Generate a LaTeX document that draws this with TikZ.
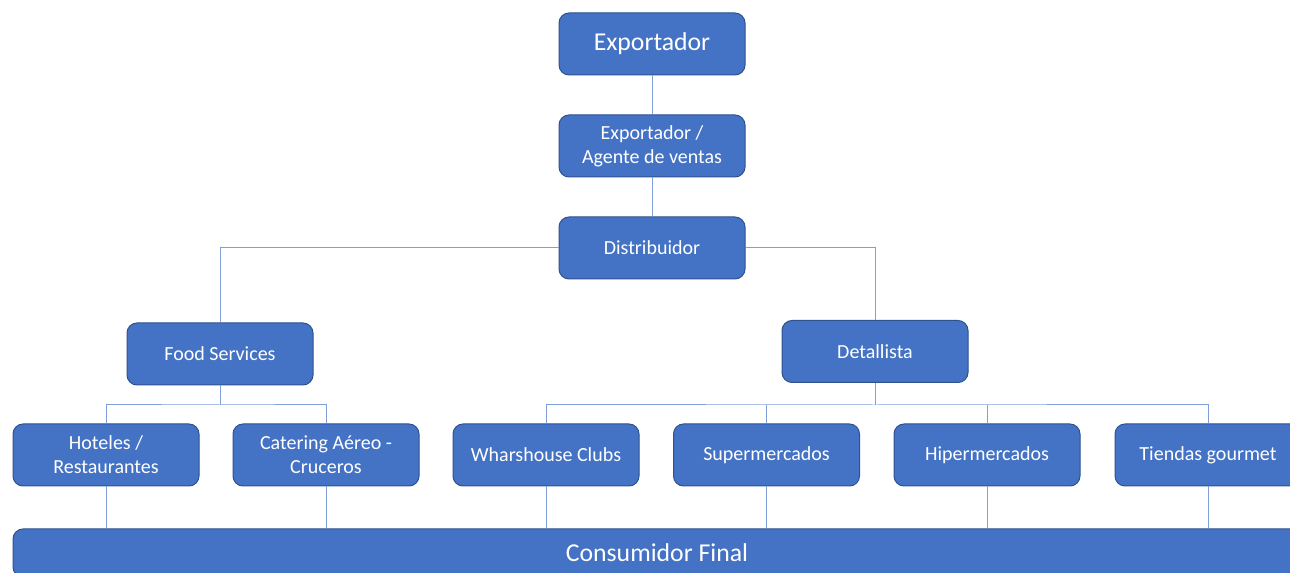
\documentclass[tikz,border=0pt]{standalone}
\usepackage{fontspec}
\setmainfont{Carlito}
\definecolor{boxfill}{HTML}{4472C4}
\definecolor{boxline}{HTML}{2F528F}
\definecolor{connc}{HTML}{7F9FD8}
\begin{document}
\begin{tikzpicture}[x=0.75pt,y=-0.75pt,
  box/.style={draw=boxline, fill=boxfill, line width=0.75pt, rounded corners=7.5pt,
    minimum width=139.5pt, minimum height=46.5pt, text=white,
    font=\fontsize{15}{18}\selectfont, align=center, inner sep=0pt},
  bigbox/.style={box, font=\fontsize{19.3}{23}\selectfont},
  conn/.style={draw=connc, line width=0.75pt}]
\clip (0,0) rectangle (1290,573);
\node[bigbox] (exp) at (652,44) {Exportador};
\node[box] (age) at (652,146) {Exportador /\\Agente de ventas};
\node[box] (dist) at (652,248) {Distribuidor};
\node[box] (food) at (220,354) {Food Services};
\node[box] (det) at (875,351.5) {Detallista};
\node[box] (hot) at (106,455) {Hoteles /\\Restaurantes};
\node[box] (cat) at (326,455) {Catering Aéreo -\\Cruceros};
\node[box] (wh) at (546,455) {Wharshouse Clubs};
\node[box] (sup) at (766.5,455) {Supermercados};
\node[box] (hip) at (987,455) {Hipermercados};
\node[box] (tg) at (1208,455) {Tiendas gourmet};
\node[bigbox, minimum width=966pt, minimum height=36pt] (cons) at (657,553) {Consumidor Final};
\coordinate (fj) at (220,405);
\coordinate (dj) at (875,405);
\draw[conn] (exp.south) -- (age.north);
\draw[conn] (age.south) -- (dist.north);
\draw[conn] (dist.west) -| (food.north);
\draw[conn] (dist.east) -| (det.north);
\draw[conn] (food.south) -- (fj);
\draw[conn] (hot.north) |- (fj) -| (cat.north);
\draw[conn] (det.south) -- (dj);
\draw[conn] (wh.north) |- (dj) -| (tg.north);
\draw[conn] (sup.north) -- (sup.north |- dj);
\draw[conn] (hip.north) -- (hip.north |- dj);
\foreach \n in {hot,cat,wh,sup,hip,tg}{
  \draw[conn] (\n.south) -- (\n.south |- cons.north);
}
\end{tikzpicture}
\end{document}
